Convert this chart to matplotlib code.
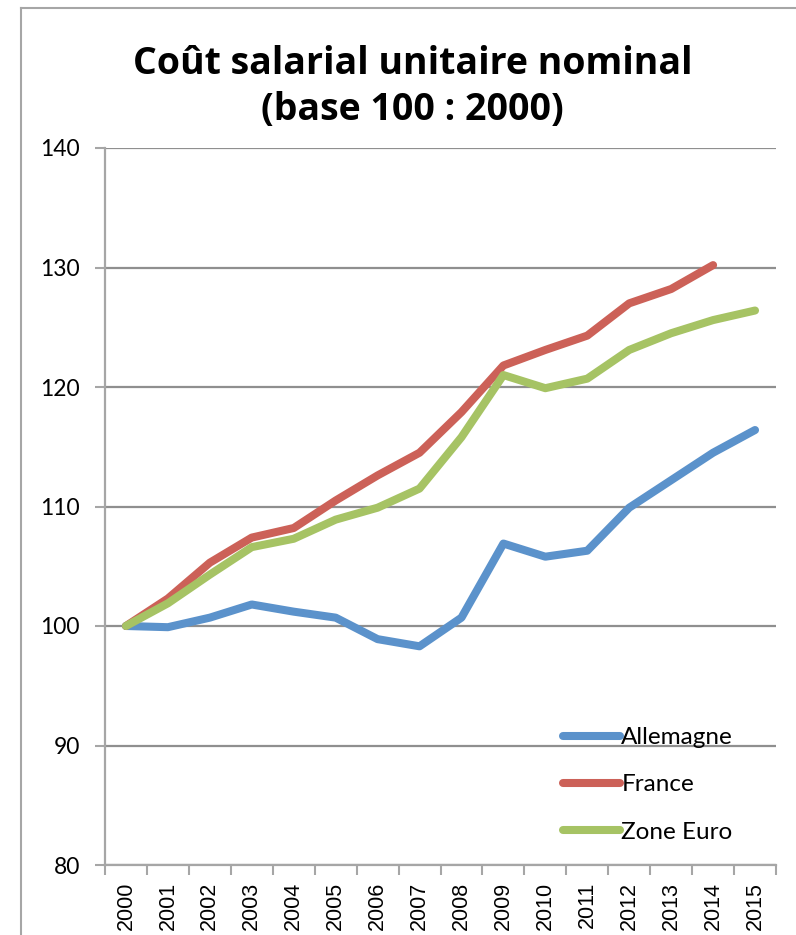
import matplotlib
matplotlib.use("Agg")
import matplotlib.pyplot as plt
import numpy as np
from matplotlib.lines import Line2D

# Coût salarial unitaire nominal, base 100 en 2000
years = [str(y) for y in range(2000, 2016)]
allemagne = [100.0, 99.9, 100.7, 101.8, 101.2, 100.7, 98.9, 98.3,
             100.7, 106.9, 105.8, 106.3, 109.9, 112.2, 114.5, 116.4]
france = [100.0, 102.3, 105.3, 107.4, 108.2, 110.5, 112.6, 114.5,
          117.9, 121.8, 123.1, 124.3, 127.0, 128.2, 130.2, np.nan]
zone_euro = [100.0, 101.9, 104.3, 106.6, 107.3, 108.9, 109.9, 111.5,
             115.8, 121.0, 119.9, 120.7, 123.1, 124.5, 125.6, 126.4]

series = [("Allemagne", allemagne, "#5B92CB"),
          ("France", france, "#CC6158"),
          ("Zone Euro", zone_euro, "#A6C364")]

W, H = 796, 935
fig = plt.figure(figsize=(W / 100, H / 100), dpi=100)

# outer chart frame (cut by the image edge on the right and bottom)
frame_col = "#a6a6a6"
fig.add_artist(Line2D([21 / W, 21 / W], [0, 1 - 8 / H], color=frame_col, lw=1.5))
fig.add_artist(Line2D([21 / W, 1], [1 - 8 / H, 1 - 8 / H], color=frame_col, lw=1.5))

ax = fig.add_axes([105 / W, 1 - 865 / H, 671 / W, (865 - 148) / H])

x = np.arange(len(years))
for name, vals, col in series:
    ax.plot(x, vals, color=col, lw=5.8, label=name,
            solid_capstyle="round", solid_joinstyle="round")

grid_col = "#8f8f8f"
ax.set_ylim(80, 140)
ax.set_yticks(range(80, 141, 10))
ax.yaxis.grid(True, color=grid_col, lw=1.6)
ax.set_axisbelow(True)

ax.set_xlim(-0.5, len(years) - 0.5)
ax.set_xticks(np.arange(-0.5, len(years), 1.0))
ax.set_xticklabels([])
ax.set_xticks(x, minor=True)
ax.set_xticklabels(years, minor=True, rotation=90, fontsize=15.5,
                   family="Liberation Sans", va="top")
ax.tick_params(axis="x", which="major", length=7, width=1.5, color=frame_col)
ax.tick_params(axis="x", which="minor", length=0, pad=12)
ax.tick_params(axis="y", length=7, width=1.5, color=frame_col, pad=11)
for lab in ax.get_yticklabels():
    lab.set_fontsize(16.5)
    lab.set_family("Lato")

for side in ("top", "right"):
    ax.spines[side].set_visible(False)
for side in ("left", "bottom"):
    ax.spines[side].set_color(frame_col)
    ax.spines[side].set_linewidth(1.6)

fig.text(0.518, 1 - 87 / H, "Coût salarial unitaire nominal\n(base 100 : 2000)",
         ha="center", va="center", fontsize=27, fontweight="bold",
         family="Open Sans", linespacing=1.26)

leg = ax.legend(loc="upper left", bbox_to_anchor=(563 / W, 1 - 727 / H),
                bbox_transform=fig.transFigure, frameon=False,
                prop={"family": "Lato", "size": 17.5}, handlelength=2.35,
                handletextpad=0.05, labelspacing=1.08, borderpad=0,
                borderaxespad=0)

fig.savefig("out.png", dpi=100)
